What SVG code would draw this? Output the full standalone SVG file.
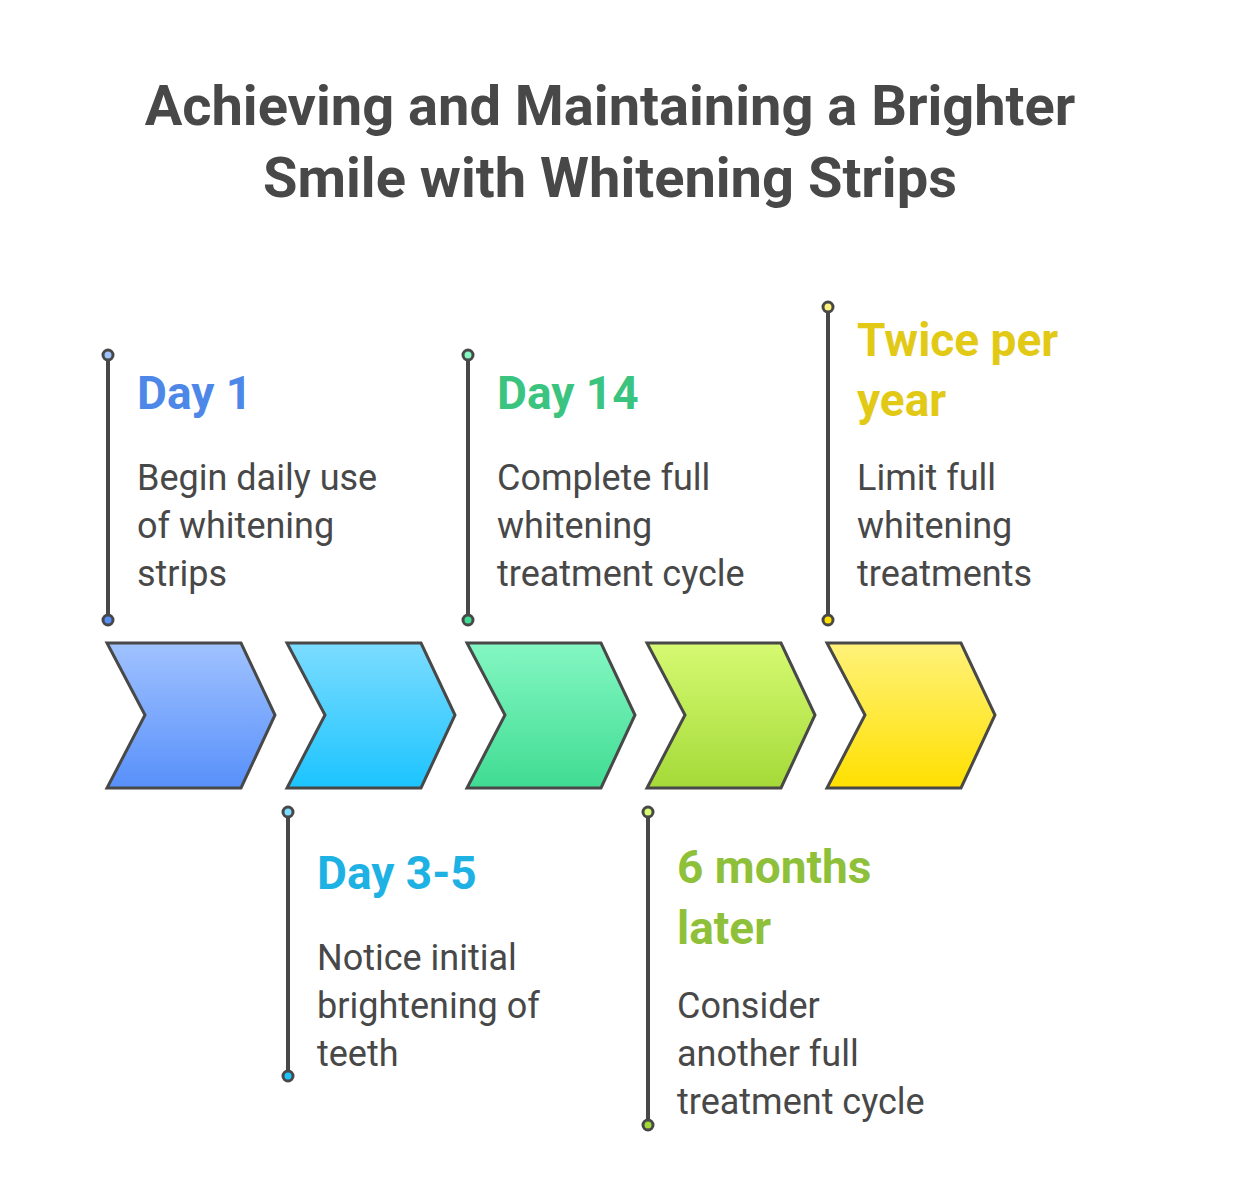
<svg xmlns="http://www.w3.org/2000/svg" width="1236" height="1200" viewBox="0 0 1236 1200">
<style>
.t{font-family:Roboto,"Liberation Sans",sans-serif;font-weight:bold;font-size:56px;fill:#484848;text-anchor:middle}
.h{font-family:Roboto,"Liberation Sans",sans-serif;font-weight:bold;font-size:46px}
.b{font-family:Roboto,"Liberation Sans",sans-serif;font-size:36px;fill:#484848}
.c{stroke:#484848;stroke-width:3}
.l{stroke:#484848;stroke-width:4}
.d{stroke:#484848;stroke-width:3}
</style>
<defs>
<linearGradient id="g1" x1="0" y1="0" x2="0" y2="1"><stop offset="0" stop-color="#a0c2ff"/><stop offset="1" stop-color="#5890fa"/></linearGradient>
<linearGradient id="g2" x1="0" y1="0" x2="0" y2="1"><stop offset="0" stop-color="#7cdcff"/><stop offset="1" stop-color="#1cc4ff"/></linearGradient>
<linearGradient id="g3" x1="0" y1="0" x2="0" y2="1"><stop offset="0" stop-color="#84f7c2"/><stop offset="1" stop-color="#40dc93"/></linearGradient>
<linearGradient id="g4" x1="0" y1="0" x2="0" y2="1"><stop offset="0" stop-color="#d6fa72"/><stop offset="1" stop-color="#a4da38"/></linearGradient>
<linearGradient id="g5" x1="0" y1="0" x2="0" y2="1"><stop offset="0" stop-color="#fff27a"/><stop offset="1" stop-color="#ffe000"/></linearGradient>
</defs>
<text class="t" x="610" y="125">Achieving and Maintaining a Brighter</text>
<text class="t" x="610" y="197">Smile with Whitening Strips</text>
<g id="chevrons">
<polygon class="c" fill="url(#g1)" points="107,643 241,643 275,715 241,788 107,788 145,715"/>
<polygon class="c" fill="url(#g2)" points="287,643 421,643 455,715 421,788 287,788 325,715"/>
<polygon class="c" fill="url(#g3)" points="467,643 601,643 635,715 601,788 467,788 505,715"/>
<polygon class="c" fill="url(#g4)" points="647,643 781,643 815,715 781,788 647,788 685,715"/>
<polygon class="c" fill="url(#g5)" points="827,643 961,643 995,715 961,788 827,788 865,715"/>
</g>
<g id="connectors">
<line class="l" x1="108" y1="355" x2="108" y2="620"/>
<line class="l" x1="288" y1="812" x2="288" y2="1076"/>
<line class="l" x1="468" y1="355" x2="468" y2="620"/>
<line class="l" x1="648" y1="812" x2="648" y2="1125"/>
<line class="l" x1="828" y1="307" x2="828" y2="620"/>
</g>
<g id="day1">
<circle class="d" cx="108" cy="355" r="5" fill="#a0c2ff"/><circle class="d" cx="108" cy="620" r="5" fill="#5890fa"/>
<text class="h" x="137" y="409" fill="#4d88e8">Day 1</text>
<text class="b" x="137" y="490">Begin daily use</text><text class="b" x="137" y="538">of whitening</text><text class="b" x="137" y="586">strips</text>
</g>
<g id="day35">
<circle class="d" cx="288" cy="812" r="5" fill="#7cdcff"/><circle class="d" cx="288" cy="1076" r="5" fill="#1cc4ff"/>
<text class="h" x="317" y="889" fill="#1eb2e4">Day 3-5</text>
<text class="b" x="317" y="970">Notice initial</text><text class="b" x="317" y="1018">brightening of</text><text class="b" x="317" y="1066">teeth</text>
</g>
<g id="day14">
<circle class="d" cx="468" cy="355" r="5" fill="#84f7c2"/><circle class="d" cx="468" cy="620" r="5" fill="#40dc93"/>
<text class="h" x="497" y="409" fill="#3ac47f">Day 14</text>
<text class="b" x="497" y="490">Complete full</text><text class="b" x="497" y="538">whitening</text><text class="b" x="497" y="586">treatment cycle</text>
</g>
<g id="months6">
<circle class="d" cx="648" cy="812" r="5" fill="#d6fa72"/><circle class="d" cx="648" cy="1125" r="5" fill="#a4da38"/>
<text class="h" x="677" y="883" fill="#8fc03a">6 months</text><text class="h" x="677" y="944" fill="#8fc03a">later</text>
<text class="b" x="677" y="1018">Consider</text><text class="b" x="677" y="1066">another full</text><text class="b" x="677" y="1114">treatment cycle</text>
</g>
<g id="twice">
<circle class="d" cx="828" cy="307" r="5" fill="#fff27a"/><circle class="d" cx="828" cy="620" r="5" fill="#ffe000"/>
<text class="h" x="857" y="356" fill="#e2c916">Twice per</text><text class="h" x="857" y="416" fill="#e2c916">year</text>
<text class="b" x="857" y="490">Limit full</text><text class="b" x="857" y="538">whitening</text><text class="b" x="857" y="586">treatments</text>
</g>
</svg>
